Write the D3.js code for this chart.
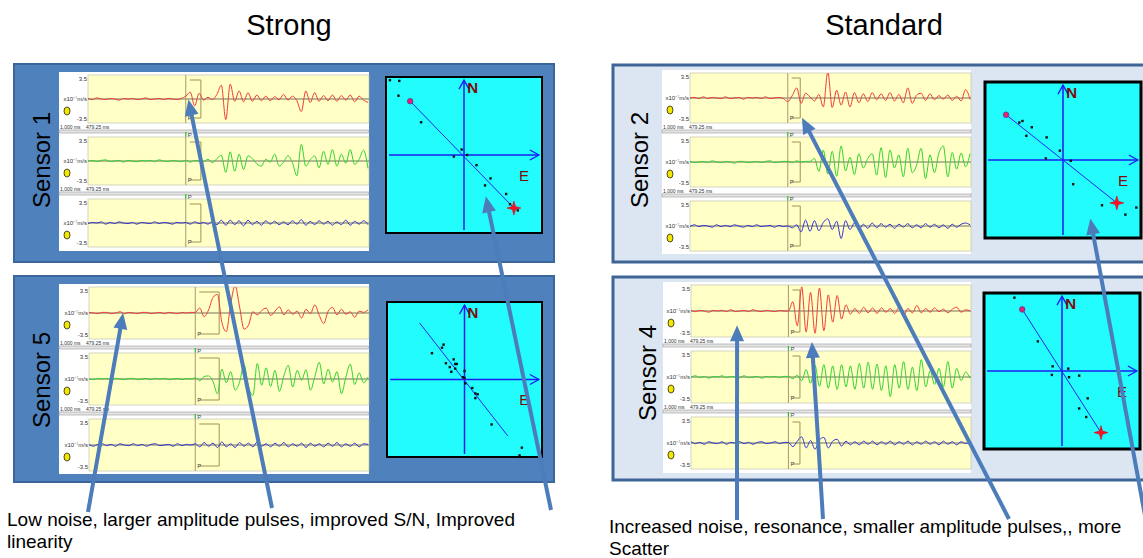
<!DOCTYPE html>
<html>
<head>
<meta charset="utf-8">
<script src="https://cdn.jsdelivr.net/npm/d3@7"></script>
<style>
  body { margin: 0; background: #fff; }
  svg { display: block; font-family: "Liberation Sans", Arial, sans-serif; }
</style>
</head>
<body>
<svg id="chart" width="1143" height="558"></svg>
<script>
// ---- data ----
const groupTitles = ['Strong', 'Standard'];
const sensorNames = ['Sensor 1', 'Sensor 5', 'Sensor 2', 'Sensor 4'];
const ampTicks = ['3.5', 'x10⁻⁷m/s', '-3.5'];
const timeTicks = ['1,000 ms', '479.25 ms'];
const pickIndex = [22, 24, 22, 22];
const windowEnd = [25.4, 29.4, 24.8, 24.6];

// waveforms, x10^-7 m/s, one sample every ~4.4 px
const s1Red = [0.1,-0.1,0.2,0,-0.1,0.1,0,-0.2,0.1,0,0.1,-0.1,0,0.2,-0.1,0,0.1,-0.1,0.1,0,-0.1,0.1,
  0.5,1.2,-1.2,1.0,-0.2,0.3,-0.1,0.8,2.4,-3.6,2.6,-0.4,1.4,-0.5,1.1,-0.4,0.7,-0.3,0.5,-0.3,
  0.4,-0.1,0.8,-0.2,0.5,-0.3,-2.2,1.4,-0.6,1.1,-0.4,0.6,-0.3,0.7,-0.4,0.6,-0.2,0.7,-0.5,0.5,-0.2,-0.6];
const s1Green = [0,0.1,-0.1,0.1,0.2,-0.1,0,0.1,-0.2,0.1,0,-0.1,0.1,0,0.1,-0.1,0.2,0,-0.1,0.1,0,-0.1,
  0.1,-0.2,0.1,0,-0.1,0.3,-0.3,0.4,1.0,-2.0,1.6,-1.8,1.2,-1.5,0.9,0.4,-0.5,-0.9,0.3,-0.2,
  1.2,-0.9,-0.2,0.9,-0.3,-2.6,2.9,-0.9,0.2,0.9,-1.2,1.7,-0.6,2.0,-0.9,1.2,-0.4,2.0,-0.6,0.3,1.9,-1.3];
const s1Blue = [-0.1,0.1,0,0.2,-0.2,0.1,-0.1,0.2,0,-0.1,0.1,-0.2,0.1,0,-0.1,0.2,-0.1,0.1,0,-0.2,0.1,0,
  0.1,-0.2,0.2,-0.1,0.1,-0.2,0.3,-0.3,0.5,-0.4,0.5,-0.3,0.4,-0.5,0.5,-0.3,0.3,-0.4,0.4,-0.2,
  0.3,-0.3,0.2,-0.3,0.4,-0.2,0.6,-0.4,0.3,-0.3,0.4,-0.2,0.3,-0.4,0.2,-0.3,0.5,-0.4,0.3,-0.2,0.4,-0.3];

const s5Red = [0.1,0,-0.1,0.1,0.1,-0.1,0,0.2,-0.1,0.1,0,-0.1,0.1,0.1,-0.1,0,0.1,-0.1,0.1,0,-0.1,0.1,0,0.1,
  0.1,0.8,-0.6,0.5,2.5,3.0,-1.5,-3.0,1.5,4.4,1.0,-2.6,-2.0,0.2,-0.3,0.4,0.8,-0.4,0.3,1.0,
  -0.3,0.5,-0.2,0.3,-0.8,0.6,-0.1,1.3,-0.4,-1.7,0.3,0.9,-0.3,0.6,-0.2,0.2,-0.7,0.3,0.1,0.5];
const s5Green = [0,-0.1,0.1,0,0.1,-0.1,0.1,0,-0.1,0.1,0.1,-0.1,0,0.1,-0.1,0.1,0,0.1,-0.1,0,0.1,-0.1,0.1,0,
  0.2,-0.3,0.4,0.5,-0.4,-2.4,1.6,-0.6,1.2,-1.8,-0.5,2.3,-1.2,-2.7,2.5,-1.0,1.8,-1.2,1.4,-2.0,
  0.5,2.2,-1.3,1.4,-0.2,1.5,-1.8,0.4,2.7,-0.8,1.6,-0.5,1.2,-2.4,0.3,2.4,-0.9,1.0,-0.6,0.3];
const s5Blue = [0.1,-0.2,0.1,0.2,-0.1,0.1,-0.2,0.2,0,-0.1,0.2,-0.1,0.1,-0.2,0.1,0.2,-0.1,0,0.1,-0.2,0.2,-0.1,0.1,0,
  0.2,-0.3,0.4,-0.2,0.3,-0.4,0.5,-0.3,0.2,-0.4,0.4,-0.2,0.3,-0.3,0.5,-0.2,0.2,-0.3,0.3,-0.2,
  0.4,-0.3,0.2,-0.2,0.3,-0.4,0.3,-0.2,0.2,-0.3,0.3,-0.2,0.4,-0.3,0.2,-0.2,0.3,-0.3,0.2,0.1];

const s2Red = [0,0.1,-0.1,0.2,-0.1,0.1,0,-0.1,0.2,-0.1,0,0.1,-0.2,0.1,0,0.1,-0.1,0.2,-0.1,0,0.1,-0.1,
  -0.6,0.4,1.7,-0.9,0.8,0.2,-0.5,0.6,-1.5,4.4,-1.6,1.3,-1.2,1.0,-1.5,0.9,-0.8,0.7,-0.6,0.9,
  -0.3,0.7,-0.4,0.9,-0.5,0.6,-0.8,1.7,-0.9,0.5,0.8,-0.4,0.7,-0.3,0.4,-0.2,0.5,-0.4,0.3,-0.5,1.4,-0.2];
const s2Green = [0.1,-0.1,0,0.1,-0.1,0.2,0,-0.1,0.1,0,-0.2,0.1,0.1,-0.1,0,0.1,-0.1,0.1,0.2,-0.1,0,0.1,
  0.1,-0.1,0.2,0,0.1,0.1,0.6,-1.6,2.0,-2.0,1.8,-2.4,2.7,-1.5,0.8,-2.1,1.4,-1.0,0.6,1.4,
  -2.2,2.4,-2.6,2.0,-1.0,1.2,-2.5,2.3,-1.8,-0.5,2.3,-2.8,1.2,-1.8,1.5,2.7,-2.5,1.6,-1.2,1.5,-0.8,1.4];
const s2Blue = [-0.1,0.2,-0.1,0.1,0,-0.2,0.2,-0.1,0.1,-0.1,0.2,0,-0.2,0.1,-0.1,0.2,-0.1,0,0.1,-0.2,0.1,-0.1,
  0.0,-0.3,0.2,-1.0,1.0,-0.9,0.9,-0.8,0.6,1.2,-0.6,0.8,-2.1,0.9,-0.6,0.5,-0.6,0.3,-0.4,0.5,
  -0.3,0.4,-0.2,0.3,-0.4,0.3,-0.2,0.4,-0.3,0.2,-0.3,0.4,-0.2,0.3,-0.3,0.2,-0.4,0.3,-0.2,0.3,0.5,0.2];

const s4Red = [0.1,-0.1,0.1,0,-0.2,0.1,0,0.1,-0.1,0.2,-0.1,0,0.1,-0.1,0.2,0,-0.1,0.1,0,-0.1,0.1,0,
  0.0,1.5,-2.4,3.9,-3.4,3.0,-3.6,3.7,-3.2,2.6,-1.8,2.5,-1.3,1.0,-0.5,0.4,-0.4,0.6,-0.3,0.5,
  -0.4,0.5,-0.2,0.4,-0.4,0.6,-0.8,0.4,-0.3,0.9,-0.3,0.4,-0.2,0.5,-0.1,0.3,-0.3,0.3,0.6,-0.2,0.2,0.0];
const s4Green = [0,0.2,-0.1,0.1,-0.2,0.1,0,0.2,-0.1,0.1,0,-0.1,0.2,-0.1,0,0.1,-0.2,0.1,0,0.1,-0.1,0.1,
  0.1,-0.3,0.3,-0.6,1.2,-1.0,1.9,-1.5,2.0,-1.8,1.8,-2.0,2.0,-1.6,1.8,-2.0,2.2,-1.8,2.4,-2.0,
  2.1,-2.2,1.8,-3.2,2.0,-1.8,2.5,-2.0,1.6,-2.2,2.8,-1.6,1.0,-1.2,1.4,-1.6,2.5,-1.8,1.4,-0.6,0.8,-0.2];
const s4Blue = [0.2,-0.1,0.1,-0.2,0.2,0,-0.1,0.2,-0.2,0.1,0,0.2,-0.1,0.1,-0.2,0.1,0.2,-0.1,0,0.2,-0.1,0.1,
  0.1,-0.6,0.3,1.0,-0.8,0.4,-1.0,0.5,0.9,-0.8,0.3,0.6,-0.5,0.3,-0.3,0.2,-0.3,0.3,-0.2,0.3,
  -0.3,0.2,-0.2,0.3,-0.3,0.2,-0.2,0.3,-0.3,0.2,-0.2,0.3,-0.2,0.2,-0.3,0.3,-0.2,0.2,-0.3,0.2,-0.1,0.2];

// hodograms: particle motion E/N (normalised), fitted direction line
const s1Scatter = [[-0.95,0.96],[-0.83,0.95],[-0.84,0.76],[-0.55,0.42],[-0.03,0.07],[-0.13,-0.02],[0.04,0.0],
  [0.16,-0.13],[0.34,-0.30],[0.27,-0.39],[0.54,-0.50],[0.59,-0.63],[0.69,-0.71]];
const s1Fit = [[-0.69,0.69],[0.64,-0.68]];
const s5Scatter = [[-0.27,0.45],[-0.29,0.41],[-0.42,0.34],[-0.24,0.21],[-0.14,0.26],[-0.12,0.2],[-0.1,0.2],
  [-0.19,0.16],[-0.12,0.14],[-0.17,0.1],[0.0,0.11],[-0.02,0.03],[0,0.02],[0.01,-0.05],[0.1,-0.11],
  [0.14,-0.18],[0.17,-0.19],[0.14,-0.24],[0.35,-0.58],[0.74,-0.88],[0.71,-0.98]];
const s5Fit = [[-0.58,0.73],[0.56,-0.73]];
const s2Scatter = [[-0.56,0.48],[-0.52,0.5],[-0.4,0.42],[-0.47,0.31],[-0.21,0.29],[-0.04,0.12],[-0.22,0.02],
  [0.1,-0.01],[0.13,-0.31],[0.5,-0.58],[0.8,-0.7],[0.94,-0.61]];
const s2Fit = [[-0.73,0.58],[0.69,-0.55]];
const s4Scatter = [[-0.61,0.94],[-0.31,0.38],[-0.12,0.06],[-0.13,-0.05],[0.08,0.03],[0.09,-0.08],[0.22,-0.06],
  [0.33,-0.35],[0.22,-0.48],[0.31,-0.59]];
const s4Fit = [[-0.51,0.79],[0.5,-0.79]];

const notes = [
  ['Low noise, larger amplitude pulses, improved S/N, Improved', 'linearity'],
  ['Increased noise, resonance, smaller amplitude pulses,, more', 'Scatter']
];

// ---- layout ----
const traces = [[s1Red, s1Green, s1Blue], [s5Red, s5Green, s5Blue], [s2Red, s2Green, s2Blue], [s4Red, s4Green, s4Blue]];
const hodos = [[s1Scatter, s1Fit, true], [s5Scatter, s5Fit, false], [s2Scatter, s2Fit, true], [s4Scatter, s4Fit, true]];
const traceColors = ['#f23a3a', '#2fd42f', '#3434d6'];

const panels = [
  { group: 0, rect: [14, 64, 540, 198], box: { x: 59, y: 72, w: 310, h: 179, yl: 88, top: 75, step: 62, ch: 48 }, hodo: { x: 386, y: 77, s: 156 }, label: [50, 160] },
  { group: 0, rect: [14, 276, 540, 206], box: { x: 59, y: 284, w: 310, h: 190, yl: 89, top: 287, step: 66, ch: 52 }, hodo: { x: 387, y: 302, s: 155 }, label: [50, 380] },
  { group: 1, rect: [613, 65, 545, 197], box: { x: 662, y: 70, w: 309, h: 184, yl: 690, top: 73, step: 64, ch: 50 }, hodo: { x: 985, y: 82, s: 156 }, label: [648, 160] },
  { group: 1, rect: [613, 277, 545, 203], box: { x: 663, y: 282, w: 308, h: 191, yl: 691, top: 285, step: 66, ch: 52 }, hodo: { x: 984, y: 293, s: 156 }, label: [656, 373] }
];

const svg = d3.select('#chart');
const defs = svg.append('defs');

// titles
svg.selectAll('text.title')
  .data(groupTitles)
  .enter()
  .append('text')
  .attr('class', 'title')
  .attr('x', (d, i) => i ? 884 : 289)
  .attr('y', 35)
  .attr('text-anchor', 'middle')
  .style('font-size', '29px')
  .text(d => d);

panels.forEach((p, k) => {
  const g = svg.append('g');
  const b = p.box;

  g.append('rect')
    .attr('x', p.rect[0]).attr('y', p.rect[1])
    .attr('width', p.rect[2]).attr('height', p.rect[3])
    .attr('fill', p.group ? '#dce6f2' : '#4f81bd')
    .attr('stroke', p.group ? '#3f6496' : '#3a669b')
    .attr('stroke-width', p.group ? 3 : 2);

  g.append('text')
    .attr('transform', `translate(${p.label[0]},${p.label[1]}) rotate(-90)`)
    .attr('text-anchor', 'middle')
    .style('font-size', '24px')
    .text(sensorNames[k]);

  // seismogram window
  g.append('rect')
    .attr('x', b.x).attr('y', b.y).attr('width', b.w).attr('height', b.h)
    .attr('fill', '#ffffff');

  const vals0 = traces[k][0];
  const x = d3.scaleLinear().domain([0, vals0.length - 1]).range([b.yl, b.x + b.w - 1]);
  p.x = x;
  p.ys = [];
  const px = x(pickIndex[k]);
  const bx = x(windowEnd[k]);

  traces[k].forEach((vals, c) => {
    const top = b.top + c * b.step;
    const bottom = top + b.ch;
    const y = d3.scaleLinear().domain([-4.2, 4.2]).range([bottom, top]);
    p.ys.push(y);

    g.append('rect')
      .attr('x', b.yl).attr('y', top).attr('width', b.x + b.w - b.yl).attr('height', b.ch)
      .attr('fill', '#ffffc6').attr('stroke', '#b8b8a8').attr('stroke-width', 0.6);

    const clipId = `clip${k}${c}`;
    defs.append('clipPath').attr('id', clipId)
      .append('rect').attr('x', b.yl).attr('y', top).attr('width', b.x + b.w - b.yl).attr('height', b.ch);

    // zero line
    g.append('line')
      .attr('x1', b.yl).attr('x2', b.x + b.w).attr('y1', y(0)).attr('y2', y(0))
      .attr('stroke', '#333').attr('stroke-width', 0.7);

    // pick and window bracket
    g.append('line')
      .attr('x1', px).attr('x2', px).attr('y1', top).attr('y2', bottom)
      .attr('stroke', '#a89870').attr('stroke-width', 1);
    g.append('path')
      .attr('d', `M${px + 4},${top + 5}H${bx}V${bottom - 5}H${px + 4}`)
      .attr('fill', 'none').attr('stroke', '#a39352').attr('stroke-width', 1);
    g.append('text')
      .attr('x', px + 2).attr('y', bottom - 3)
      .style('font-size', '6px').attr('fill', '#444').text('P');

    // amplitude labels
    g.selectAll(null)
      .data(ampTicks)
      .enter()
      .append('text')
      .attr('x', b.yl - 1)
      .attr('y', (d, i) => [y(3.5) + 2, y(0) + 2, y(-3.5) + 2][i])
      .attr('text-anchor', 'end')
      .style('font-size', '6px')
      .attr('fill', '#333')
      .text(d => d);
    g.append('ellipse')
      .attr('cx', b.x + 8).attr('cy', y(0) + 12).attr('rx', 3).attr('ry', 4)
      .attr('fill', '#f4e800').attr('stroke', '#222').attr('stroke-width', 0.8);

    // trace
    g.append('path')
      .datum(vals)
      .attr('clip-path', `url(#${clipId})`)
      .attr('fill', 'none')
      .attr('stroke', traceColors[c])
      .attr('stroke-width', 1)
      .attr('d', d3.line()
        .x((d, i) => x(i))
        .y(d => y(d))
        .curve(d3.curveMonotoneX));

    if (c < 2) {
      g.selectAll(null)
        .data(timeTicks)
        .enter()
        .append('text')
        .attr('x', (d, i) => b.x + 1 + i * 26)
        .attr('y', bottom + 5.5)
        .style('font-size', '5px')
        .attr('fill', '#333')
        .text(d => d);
      g.append('rect')
        .attr('x', b.x).attr('y', bottom + 7).attr('width', b.w).attr('height', 3)
        .attr('fill', '#e4e4e4').attr('stroke', '#9a9a9a').attr('stroke-width', 0.6);
      g.append('line')
        .attr('x1', px).attr('x2', px).attr('y1', bottom + 9).attr('y2', bottom + b.step - b.ch + 1)
        .attr('stroke', '#22c022').attr('stroke-width', 1.2);
      g.append('text')
        .attr('x', px + 2).attr('y', bottom + b.step - b.ch)
        .style('font-size', '6px').attr('fill', '#444').text('P');
    }
  });

  // hodogram
  const h = p.hodo;
  const [scatter, fit, marks] = hodos[k];
  const hx = d3.scaleLinear().domain([-1, 1]).range([h.x, h.x + h.s]);
  const hy = d3.scaleLinear().domain([-1, 1]).range([h.y + h.s, h.y]);
  p.hx = hx;
  p.hy = hy;

  g.append('rect')
    .attr('x', h.x).attr('y', h.y).attr('width', h.s).attr('height', h.s)
    .attr('fill', '#22fcfc').attr('stroke', '#000').attr('stroke-width', p.group ? 3 : 2);

  const ax = '#1c1cf5';
  g.append('line')
    .attr('x1', hx(-0.96)).attr('x2', hx(0.96)).attr('y1', hy(0)).attr('y2', hy(0))
    .attr('stroke', ax).attr('stroke-width', 1.5);
  g.append('path')
    .attr('d', `M${hx(0.96) - 9},${hy(0) - 5}L${hx(0.96)},${hy(0)}L${hx(0.96) - 9},${hy(0) + 5}`)
    .attr('fill', 'none').attr('stroke', ax).attr('stroke-width', 1.3);
  g.append('line')
    .attr('x1', hx(0)).attr('x2', hx(0)).attr('y1', hy(0.96)).attr('y2', hy(-0.96))
    .attr('stroke', ax).attr('stroke-width', 1.5);
  g.append('path')
    .attr('d', `M${hx(0) - 5},${hy(0.96) + 9}L${hx(0)},${hy(0.96)}L${hx(0) + 5},${hy(0.96) + 9}`)
    .attr('fill', 'none').attr('stroke', ax).attr('stroke-width', 1.3);

  g.append('text')
    .attr('x', hx(0.11)).attr('y', hy(0.8))
    .attr('text-anchor', 'middle')
    .style('font-size', '15px').style('font-weight', 'bold')
    .attr('fill', '#7d0c0c').text('N');
  g.append('text')
    .attr('x', hx(0.77)).attr('y', hy(-0.33))
    .attr('text-anchor', 'middle')
    .style('font-size', '15px')
    .attr('fill', '#7d0c0c').text('E');

  g.append('path')
    .datum(fit)
    .attr('fill', 'none')
    .attr('stroke', '#2424f0')
    .attr('stroke-width', 1)
    .attr('d', d3.line().x(d => hx(d[0])).y(d => hy(d[1])));

  g.selectAll(null)
    .data(scatter)
    .enter()
    .append('rect')
    .attr('x', d => hx(d[0]) - 1.2)
    .attr('y', d => hy(d[1]) - 1.2)
    .attr('width', 2.4)
    .attr('height', 2.4)
    .attr('fill', '#111');

  if (marks) {
    g.append('circle')
      .attr('cx', hx(fit[0][0])).attr('cy', hy(fit[0][1])).attr('r', 2.8)
      .attr('fill', '#e8206e').attr('stroke', '#4848a8').attr('stroke-width', 0.8);
    const star = d3.lineRadial()
      .angle((d, i) => i * Math.PI / 4)
      .radius((d, i) => i % 2 ? 2.2 : 7)
      .curve(d3.curveLinearClosed);
    g.append('path')
      .attr('transform', `translate(${hx(fit[1][0])},${hy(fit[1][1])})`)
      .attr('d', star(d3.range(8)))
      .attr('fill', '#ff1020').attr('stroke', '#c4102a').attr('stroke-width', 0.6);
  }
});

// notes under each group
notes.forEach((lines, i) => {
  svg.selectAll(null)
    .data(lines)
    .enter()
    .append('text')
    .attr('x', i ? 609 : 7)
    .attr('y', (d, j) => (i ? 533 : 526) + j * 22)
    .style('font-size', '19px')
    .text(d => d);
});

// callout arrows: tail in the note area, head on a feature of a panel
const arrowTails = [[88, 512], [272, 508], [551, 510], [737, 520], [823, 519], [1009, 519], [1146, 521]];
const arrowHeads = [
  { panel: 1, ch: 0, i: 7.7, v: 0 },
  { panel: 0, ch: 0, i: 22.6, v: -0.1 },
  { panel: 0, e: 0.28, n: -0.53 },
  { panel: 3, ch: 0, i: 10.4, v: -2.3 },
  { panel: 3, ch: 0, i: 27.3, v: -5.0 },
  { panel: 2, ch: 0, i: 25.2, v: -3.3 },
  { panel: 2, e: 0.35, n: -0.75 }
];

const arrowColor = '#4c7dba';
arrowHeads.forEach((a, k) => {
  const p = panels[a.panel];
  const tip = a.e !== undefined ? [p.hx(a.e), p.hy(a.n)] : [p.x(a.i), p.ys[a.ch](a.v)];
  const tail = arrowTails[k];
  const dx = tip[0] - tail[0];
  const dy = tip[1] - tail[1];
  const len = Math.hypot(dx, dy);
  const ux = dx / len;
  const uy = dy / len;
  const headLen = 16;
  const headW = 7;
  const base = [tip[0] - ux * headLen, tip[1] - uy * headLen];
  svg.append('line')
    .attr('x1', tail[0]).attr('y1', tail[1])
    .attr('x2', base[0] + ux * 2).attr('y2', base[1] + uy * 2)
    .attr('stroke', arrowColor).attr('stroke-width', 4);
  svg.append('path')
    .attr('d', `M${tip[0]},${tip[1]}L${base[0] - uy * headW},${base[1] + ux * headW}L${base[0] + uy * headW},${base[1] - ux * headW}Z`)
    .attr('fill', arrowColor);
});
</script>
</body>
</html>
